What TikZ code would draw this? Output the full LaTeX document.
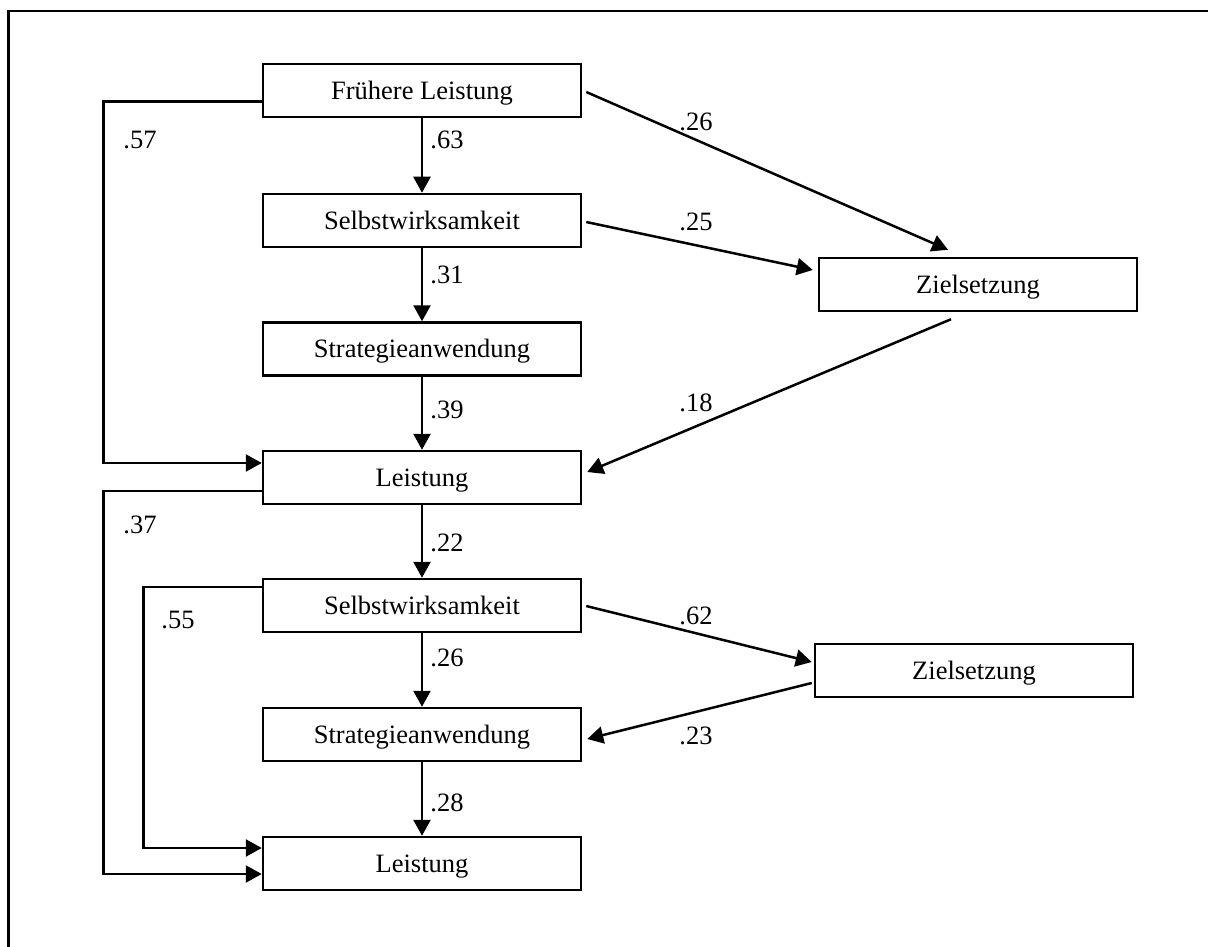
\documentclass[tikz,border=0pt]{standalone}
\usepackage{fontspec}
\setmainfont{Liberation Serif}
\usetikzlibrary{arrows.meta}
\begin{document}
\begin{tikzpicture}[x=1pt,y=-1pt,
  every path/.style={line width=2.5pt},
  box/.style={draw,line width=2.5pt,minimum width=318pt,minimum height=53pt,inner sep=0pt,
    text height=23.3pt,text depth=5.8pt,font=\fontsize{26.5}{30}\selectfont},
  lbl/.style={inner sep=0pt,font=\fontsize{26.5}{30}\selectfont},
  arr/.style={-{Triangle[length=16pt,width=17pt]}}]
\useasboundingbox (0,0) rectangle (1208,947);
\draw (1210,11) -- (8.5,11) -- (8.5,950);
% boxes
\node[box] (b1) at (422,90.5) {Frühere Leistung};
\node[box] (b2) at (422,220.5) {Selbstwirksamkeit};
\node[box] (b3) at (422,349) {Strategieanwendung};
\node[box] (b4) at (422,477.5) {Leistung};
\node[box] (b5) at (422,605.5) {Selbstwirksamkeit};
\node[box] (b6) at (422,734.5) {Strategieanwendung};
\node[box] (b7) at (422,863.5) {Leistung};
\node[box] (z1) at (978,284.5) {Zielsetzung};
\node[box] (z2) at (974,670.5) {Zielsetzung};
% vertical arrows
\draw[arr] (b1.south) -- (b2.north);
\draw[arr] (b2.south) -- (b3.north);
\draw[arr] (b3.south) -- (b4.north);
\draw[arr] (b4.south) -- (b5.north);
\draw[arr] (b5.south) -- (b6.north);
\draw[arr] (b6.south) -- (b7.north);
% feedback lines
\draw[arr] ([yshift=-11.2pt]b1.west) -- ++(-158.5,0) |- ([yshift=14.5pt]b4.west);
\draw[arr] ([yshift=-13.5pt]b4.west) -- ++(-158.5,0) |- ([yshift=-10.5pt]b7.west);
\draw[arr] ([yshift=18.5pt]b5.west) -- ++(-118.3,0) |- ([yshift=15.5pt]b7.west);
% diagonal arrows
\draw[arr] ([xshift=4pt,yshift=-1.5pt]b1.east) -- ([xshift=-30pt,yshift=7pt]z1.north);
\draw[arr] ([xshift=4pt,yshift=-1.5pt]b2.east) -- ([xshift=-5pt,yshift=14.5pt]z1.west);
\draw[arr] ([xshift=-27pt,yshift=-7pt]z1.south) -- ([xshift=5pt,yshift=5.5pt]b4.east);
\draw[arr] ([xshift=4pt,yshift=-0.5pt]b5.east) -- ([xshift=-2pt,yshift=8.5pt]z2.west);
\draw[arr] ([xshift=-2pt,yshift=-12.5pt]z2.west) -- ([xshift=5pt,yshift=-4.5pt]b6.east);
% labels
\node[lbl] (l57) at (140,140.5) {.57};
\node[lbl] (l63) at (447,140) {.63};
\node[lbl] (l31) at (447,275) {.31};
\node[lbl] (l39) at (447,410) {.39};
\node[lbl] (l37) at (140,525) {.37};
\node[lbl] (l22) at (447,543) {.22};
\node[lbl] (l55) at (178,620) {.55};
\node[lbl] (l26b) at (447,658) {.26};
\node[lbl] (l28) at (447,803) {.28};
\node[lbl] (l26a) at (696,122) {.26};
\node[lbl] (l25) at (696,222) {.25};
\node[lbl] (l18) at (696,403) {.18};
\node[lbl] (l62) at (696,616) {.62};
\node[lbl] (l23) at (696,736) {.23};
\end{tikzpicture}
\end{document}
